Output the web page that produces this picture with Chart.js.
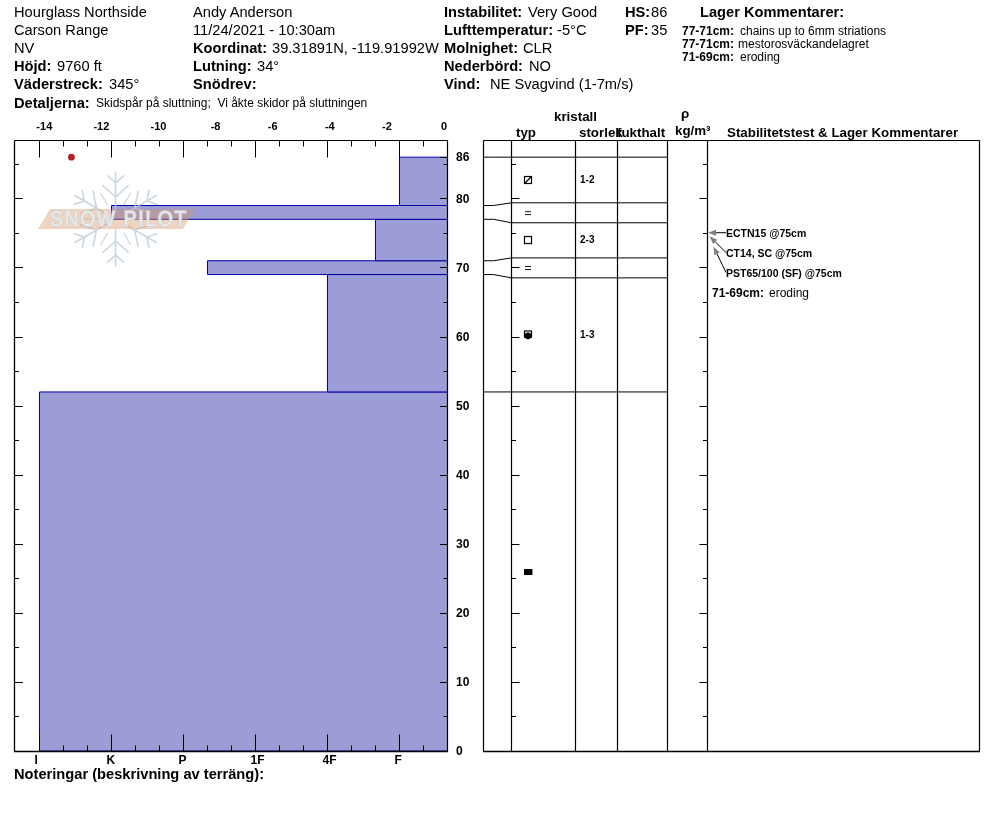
<!DOCTYPE html>
<html><head><meta charset="utf-8">
<script src="https://cdn.jsdelivr.net/npm/chart.js@4"></script>
<style>
html,body{margin:0;padding:0;background:#fff;width:994px;height:840px;overflow:hidden}
canvas{position:absolute;top:0;left:0}
.t{position:absolute;white-space:pre;font-family:"Liberation Sans",Arial,sans-serif;color:#000;line-height:16px;height:16px}
.b{font-weight:bold}
</style></head><body>
<div style="position:absolute;left:0;top:0;width:480px;height:840px"><canvas id="left" width="480" height="840"></canvas></div>
<div style="position:absolute;left:480px;top:0;width:514px;height:840px"><canvas id="right" width="514" height="840"></canvas></div>
<script>
// ---- data ----
const layerTop      = [86, 79, 77, 71, 69, 52];
const layerBottom   = [79, 77, 71, 69, 52, 0];
const layerHardness = [1, 5, 4/3, 11/3, 2, 6];      // F=1, 4F=2, 1F=3, P=4, K=5, I=6
const layerDrawnTop = [86, 79.39, 76.5, 71.41, 68.52, 52]; // spread for the grain table
const hardnessValues = [6, 5, 4, 3, 2, 1];
const hardnessLabels = ['I', 'K', 'P', '1F', '4F', 'F'];
const tempTicks  = [-14, -12, -10, -8, -6, -4, -2, 0];
const tempValues = [-13.05];
const tempDepths = [86];
const depthLabels = [0, 10, 20, 30, 40, 50, 60, 70, 80, 86];
const grainKinds  = ['facetRound', 'eq', 'facet', 'eq', 'melt', 'block'];
const grainDepths = [82.7, 77.9, 74.0, 69.95, 60.25, 25.92];
const columnEdges = [0, 28, 92, 134, 184, 224, 496];
const testLabels  = ['ECTN15 @75cm', 'CT14, SC @75cm', 'PST65/100 (SF) @75cm'];
const testDepths  = [75, 75, 75];

// ---- layout constants ----
const AX_L = 14.5, AX_R = 447.5, AX_T = 140.5, AX_B = 751.5;
const Y_MIN = (751 - AX_B) / 6.905, Y_MAX = (751 - AX_T) / 6.905;
const BLACK = '#000', FILL = '#9C9CD6', EDGE = '#0000A0';
const depthTicks = []; for (let d = 0; d <= 85; d += 5) depthTicks.push(d); depthTicks.push(86);
const hardTicks = []; for (let i = 18; i >= 2; i--) hardTicks.push(i / 3);
Chart.defaults.font.family = '"Liberation Sans", Arial, sans-serif';
Chart.defaults.animation = false;

function rect(i, xMax) {
  return [
    {x: layerHardness[i], y: layerTop[i]}, {x: xMax, y: layerTop[i]},
    {x: xMax, y: layerBottom[i]}, {x: layerHardness[i], y: layerBottom[i]},
    {x: layerHardness[i], y: layerTop[i]}];
}
const HX_MIN = 1 / 3, HX_MAX = 1 + 385 / 72;

function line(ctx, a, b, c, d, w) {
  ctx.lineWidth = w || 1; ctx.strokeStyle = BLACK; ctx.beginPath(); ctx.moveTo(a, b); ctx.lineTo(c, d); ctx.stroke();
}
function snapY(Y, d) { return Math.floor(Y.getPixelForValue(d) + .3) + .5; }

const leftFrame = {
  id: 'leftFrame',
  afterDatasetsDraw(chart) {
    const c = chart.ctx, a = chart.chartArea, X = chart.scales.x, Y = chart.scales.y;
    c.save();
    // watermark above the bars
    watermark(c);
    hardTicks.forEach(v => {
      const p = Math.round(X.getPixelForValue(v) - .5) + .5, major = Math.abs(v - Math.round(v)) < 1e-6;
      const L = major ? 17 : 6;
      line(c, p, a.top, p, a.top + L); line(c, p, a.bottom, p, a.bottom - L);
    });
    depthTicks.forEach(d => {
      const p = snapY(Y, d), major = d % 10 === 0;
      if (d !== 86) line(c, a.left, p, a.left + (major ? 8.5 : 4.5), p);
      line(c, a.right, p, a.right - (major || d === 86 ? 7.5 : 4), p);
    });
    line(c, a.left, a.top, a.right, a.top, 1.2);
    line(c, a.left, a.top, a.left, a.bottom, 1.3);
    line(c, a.right, a.top, a.right, a.bottom, 1.2);
    line(c, a.left - .5, a.bottom, a.right + .5, a.bottom, 1.5);
    c.restore();
  }
};

function watermark(c) {
  c.save();
  const cx = 115.6, cy = 219, R = 47.5;
  c.globalAlpha = .8; c.strokeStyle = '#BDCDD8'; c.lineWidth = 1.6; c.lineCap = 'butt';
  for (let k = 0; k < 6; k++) {
    c.save(); c.translate(cx, cy); c.rotate(k * Math.PI / 3);
    c.beginPath(); c.moveTo(0, -10); c.lineTo(0, -R);
    [[-22, 13], [-36, 8.5]].forEach(([y, l]) => {
      c.moveTo(0, y); c.lineTo(-l, y - l * .9); c.moveTo(0, y); c.lineTo(l, y - l * .9);
    });
    c.stroke(); c.restore();
    c.save(); c.translate(cx, cy); c.rotate((k + .5) * Math.PI / 3);
    c.lineWidth = 1.2; c.beginPath(); c.moveTo(0, -16); c.lineTo(0, -30); c.stroke(); c.restore();
  }
  c.globalAlpha = 1; c.fillStyle = 'rgba(220,150,100,.42)';
  c.beginPath(); c.moveTo(38, 229); c.lineTo(50, 209); c.lineTo(195, 209); c.lineTo(183, 229); c.closePath(); c.fill();
  c.font = '22px "Liberation Sans", Arial, sans-serif';
  c.textBaseline = 'middle'; c.textAlign = 'left'; c.letterSpacing = '2px';
  c.lineWidth = 2.2; c.strokeStyle = 'rgba(205,214,220,.8)'; c.lineJoin = 'miter';
  const s = 'SNOW PILOT', w = c.measureText(s).width;
  c.translate(50, 220); c.scale(138 / w, 1);
  c.strokeText(s, 0, 0); c.fillStyle = 'rgba(245,246,247,.7)'; c.fillText(s, 0, 0);
  c.restore();
}

new Chart(document.getElementById('left'), {
  type: 'scatter',
  data: { datasets: [
    ...layerTop.map((_, i) => ({
      type: 'line', data: rect(i, HX_MIN), fill: 'shape', backgroundColor: FILL, borderColor: EDGE,
      borderWidth: 1, pointRadius: 0, tension: 0, xAxisID: 'x', yAxisID: 'y', order: 2 })),
    { type: 'scatter', data: tempValues.map((v, i) => ({x: v, y: tempDepths[i]})), xAxisID: 'xT', yAxisID: 'y',
      pointRadius: 3.4, backgroundColor: '#B22222', borderWidth: 0, order: 1 }
  ]},
  options: {
    responsive: false, maintainAspectRatio: false, devicePixelRatio: 1,
    layout: { autoPadding: false, padding: { left: AX_L, right: 0, top: AX_T - 30, bottom: 840 - AX_B - 30 } },
    plugins: { legend: {display: false}, tooltip: {enabled: false} },
    scales: {
      x: { type: 'linear', reverse: true, position: 'bottom', min: HX_MIN, max: HX_MAX,
        grid: {display: false, drawTicks: false}, border: {display: false},
        afterBuildTicks: s => { s.ticks = hardTicks.map(v => ({value: v})); },
        afterFit: s => { s.height = 30; },
        ticks: { autoSkip: false, maxRotation: 0, align: 'start', labelOffset: -5, padding: 2, color: BLACK,
          font: {size: 12, weight: 'bold'},
          callback: v => { const i = hardnessValues.findIndex(h => Math.abs(h - v) < 1e-6); return i < 0 ? '' : hardnessLabels[i]; } } },
      xT: { type: 'linear', position: 'top', min: (AX_L - 444) / 28.55, max: (AX_R - 444) / 28.55,
        grid: {display: false, drawTicks: false}, border: {display: false},
        afterBuildTicks: s => { s.ticks = tempTicks.map(v => ({value: v})); },
        afterFit: s => { s.height = 30; },
        ticks: { autoSkip: false, maxRotation: 0, padding: 7, color: BLACK, font: {size: 11, weight: 'bold'}, callback: v => String(v) } },
      y: { type: 'linear', position: 'right', min: Y_MIN, max: Y_MAX,
        grid: {display: false, drawTicks: false}, border: {display: false},
        afterBuildTicks: s => { s.ticks = depthTicks.map(v => ({value: v})); },
        afterFit: s => { s.width = 480 - AX_R; },
        ticks: { autoSkip: false, padding: 8.5, crossAlign: 'near', labelOffset: 1, color: BLACK, font: {size: 12, weight: 'bold'},
          callback: v => depthLabels.includes(v) ? String(v) : '' } }
    }
  },
  plugins: [leftFrame]
});

// ---- grain symbols ----
function sym(draw) {
  const k = document.createElement('canvas'); k.width = 14; k.height = 14;
  const c = k.getContext('2d'); c.strokeStyle = BLACK; c.fillStyle = BLACK; draw(c); return k;
}
const symbols = {
  facetRound: sym(c => { c.lineWidth = 1.2; c.strokeRect(3.5, 3.5, 7, 7); c.beginPath(); c.moveTo(3.5, 10.5); c.lineTo(10.5, 3.5); c.stroke(); }),
  eq: sym(c => { c.lineWidth = .9; c.beginPath(); c.moveTo(4, 5.5); c.lineTo(10, 5.5); c.moveTo(4, 8.5); c.lineTo(10, 8.5); c.stroke(); }),
  facet: sym(c => { c.lineWidth = 1.2; c.strokeRect(3.5, 3.5, 7, 7); }),
  melt: sym(c => { c.lineWidth = 1.2; c.strokeRect(3.5, 3, 7, 6); c.beginPath(); c.arc(7, 7.8, 3.4, 0, 7); c.fill(); }),
  block: sym(c => { c.fillRect(3, 4, 8, 6); c.fillStyle = '#999'; c.fillRect(11, 4, 1, 6); })
};

const rightFrame = {
  id: 'rightFrame',
  afterDatasetsDraw(chart) {
    const c = chart.ctx, a = chart.chartArea, X = chart.scales.x, Y = chart.scales.y;
    c.save();
    line(c, a.left, a.top, a.right, a.top, 1.2);
    line(c, a.left - .5, a.bottom, a.right + .5, a.bottom, 1.3);
    columnEdges.forEach(e => { const p = X.getPixelForValue(e); line(c, p, a.top, p, a.bottom, 1.2); });
    const xa = X.getPixelForValue(columnEdges[1]), xb = X.getPixelForValue(columnEdges[5]);
    depthTicks.forEach(d => {
      if (d === 86) return;
      const p = snapY(Y, d), L = d % 10 === 0 ? 8 : 4.5;
      line(c, xa, p, xa + L, p); line(c, xb, p, xb - L, p);
    });
    // arrows from each test label to its depth on the density edge
    const ty = Y.getPixelForValue(testDepths[0]) - .4;
    const arrows = [
      [xb + 18.5, ty, xb + 0.5, ty],
      [xb + 18.5, ty + 19.7, xb + 2, ty + 3.5],
      [xb + 18.5, ty + 39.7, xb + 6, ty + 14]
    ];
    testLabels.forEach((_, i) => {
      const [x0, y0, x1, y1] = arrows[i], ang = Math.atan2(y0 - y1, x0 - x1);
      const hx = x1 + 8 * Math.cos(ang), hy = y1 + 8 * Math.sin(ang);
      line(c, x0, y0, hx, hy);
      c.fillStyle = '#808080'; c.beginPath(); c.moveTo(x1, y1);
      c.lineTo(hx - 3 * Math.sin(ang), hy + 3 * Math.cos(ang));
      c.lineTo(hx + 3 * Math.sin(ang), hy - 3 * Math.cos(ang)); c.closePath(); c.fill();
    });
    c.restore();
  }
};

new Chart(document.getElementById('right'), {
  type: 'scatter',
  data: { datasets: [
    ...layerTop.map((_, i) => ({
      type: 'line', tension: 0, pointRadius: 0, borderWidth: 1, borderColor: BLACK, fill: false,
      data: [{x: columnEdges[0], y: layerTop[i]}, {x: 10, y: layerTop[i]},
             {x: columnEdges[1], y: layerDrawnTop[i]}, {x: columnEdges[4], y: layerDrawnTop[i]}] })),
    { type: 'scatter', data: grainDepths.map(d => ({x: 44.5, y: d})),
      pointStyle: ctx => symbols[grainKinds[ctx.dataIndex]] }
  ]},
  options: {
    responsive: false, maintainAspectRatio: false, devicePixelRatio: 1,
    layout: { autoPadding: false, padding: { left: 3.5, right: 14.5, top: AX_T, bottom: 840 - AX_B } },
    plugins: { legend: {display: false}, tooltip: {enabled: false} },
    scales: {
      x: { type: 'linear', min: 0, max: 496, display: false },
      y: { type: 'linear', min: Y_MIN, max: Y_MAX, display: false }
    }
  },
  plugins: [rightFrame]
});

// ---- text ----
function T(x, cy, s, size, bold) {
  const d = document.createElement('div');
  d.className = 't' + (bold ? ' b' : ''); d.textContent = s;
  d.style.left = x + 'px'; d.style.top = (cy - 8) + 'px'; d.style.fontSize = size + 'px';
  document.body.appendChild(d);
  return d;
}
const rows = [12, 30, 48, 66, 84];
const BIG = 14.67, HD = 13.33;
T(14, rows[0], 'Hourglass Northside', BIG); T(14, rows[1], 'Carson Range', BIG); T(14, rows[2], 'NV', BIG);
T(14, rows[3], 'Höjd:', BIG, 1); T(57, rows[3], '9760 ft', BIG);
T(14, rows[4], 'Väderstreck:', BIG, 1); T(109, rows[4], '345°', BIG);
T(14, 102.5, 'Detaljerna:', BIG, 1); T(96, 103, 'Skidspår på sluttning;  Vi åkte skidor på sluttningen', 12);
T(193, rows[0], 'Andy Anderson', BIG); T(193, rows[1], '11/24/2021 - 10:30am', BIG);
T(193, rows[2], 'Koordinat:', BIG, 1); T(272, rows[2], '39.31891N, -119.91992W', BIG);
T(193, rows[3], 'Lutning:', BIG, 1); T(257, rows[3], '34°', BIG);
T(193, rows[4], 'Snödrev:', BIG, 1);
T(444, rows[0], 'Instabilitet:', BIG, 1); T(528, rows[0], 'Very Good', BIG);
T(444, rows[1], 'Lufttemperatur:', BIG, 1); T(557, rows[1], '-5°C', BIG);
T(444, rows[2], 'Molnighet:', BIG, 1); T(523, rows[2], 'CLR', BIG);
T(444, rows[3], 'Nederbörd:', BIG, 1); T(529, rows[3], 'NO', BIG);
T(444, rows[4], 'Vind:', BIG, 1); T(490, rows[4], 'NE Svagvind (1-7m/s)', BIG);
T(625, rows[0], 'HS:', BIG, 1); T(651, rows[0], '86', BIG);
T(625, rows[1], 'PF:', BIG, 1); T(651, rows[1], '35', BIG);
T(700, rows[0], 'Lager Kommentarer:', BIG, 1);
T(682, 30.5, '77-71cm:', 12, 1); T(740, 30.5, 'chains up to 6mm striations', 12);
T(682, 43.5, '77-71cm:', 12, 1); T(738, 43.5, 'mestorosväckandelagret', 12);
T(682, 56.5, '71-69cm:', 12, 1); T(740, 56.5, 'eroding', 12);
T(554, 117, 'kristall', HD, 1); T(516, 133, 'typ', HD, 1); T(579, 133, 'storlek', HD, 1);
T(617, 133, 'fukthalt', HD, 1); T(681, 114, 'ρ', HD, 1); T(675, 131, 'kg/m³', HD, 1);
T(727, 133, 'Stabilitetstest & Lager Kommentarer', HD, 1);
T(580, 180, '1-2', 10, 1); T(580, 240, '2-3', 10, 1); T(580, 335, '1-3', 10, 1);
T(726, 233, testLabels[0], 10.5, 1); T(726, 253, testLabels[1], 10.5, 1); T(726, 273, testLabels[2], 10.5, 1);
T(712, 292.5, '71-69cm:', 12, 1); T(769, 292.5, 'eroding', 12);
T(14, 774, 'Noteringar (beskrivning av terräng):', BIG, 1);
</script>
</body></html>
